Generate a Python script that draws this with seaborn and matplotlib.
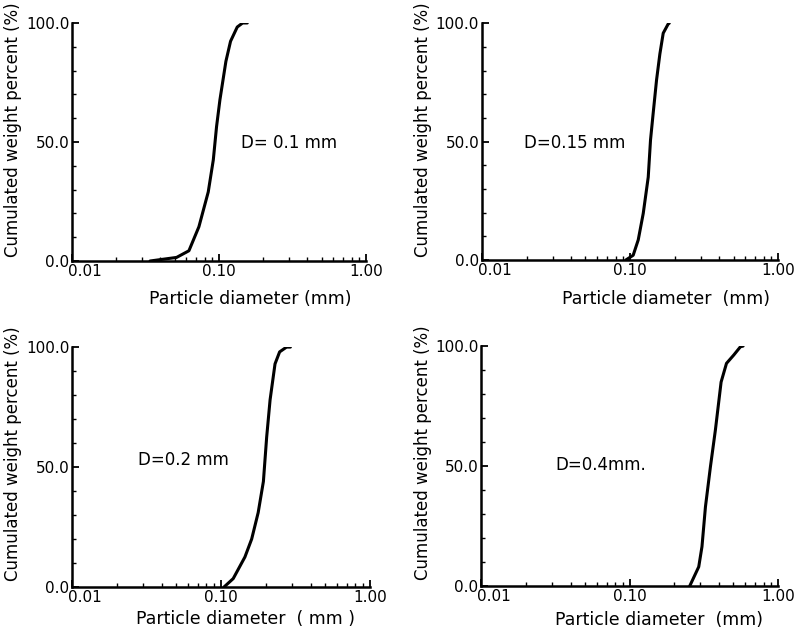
import matplotlib
matplotlib.use("Agg")
import matplotlib.pyplot as plt
import matplotlib.ticker as mticker
import matplotlib.transforms as mtrans
import seaborn as sns

# grain size curves
d01_size = [0.034, 0.0515, 0.0625, 0.0731, 0.0846, 0.0916, 0.0964, 0.1016, 0.1116, 0.120, 0.1333, 0.145, 0.156]
d01_pct = [0, 1.5, 4.3, 14.4, 29, 42.5, 56.5, 67.7, 83.9, 92.3, 98.3, 100, 100]

d015_size = [0.0937, 0.105, 0.1136, 0.1228, 0.1327, 0.1375, 0.1433, 0.151, 0.159, 0.1675, 0.181, 0.184]
d015_pct = [0, 2, 8.5, 19.7, 35, 50.7, 62, 76, 87, 95.8, 99.7, 100]

d02_size = [0.105, 0.121, 0.145, 0.161, 0.178, 0.193, 0.203, 0.214, 0.231, 0.248, 0.276, 0.293]
d02_pct = [0, 3.5, 12.5, 20, 31, 44, 62.5, 78, 93, 98, 100, 100]

d04_size = [0.254, 0.292, 0.307, 0.324, 0.350, 0.378, 0.413, 0.449, 0.503, 0.557, 0.581]
d04_pct = [0, 8, 16.4, 33, 49.7, 65, 85, 92.8, 96.3, 99.7, 100]

labels = ["D= 0.1 mm", "D=0.15 mm", "D=0.2 mm", "D=0.4mm."]
label_pos = [(0.142, 49.5), (0.0192, 49.3), (0.0277, 53), (0.0315, 50.4)]
xlabels = ["Particle diameter (mm)", "Particle diameter  (mm)",
           "Particle diameter  ( mm )", "Particle diameter  (mm)"]
ylabel = "Cumulated weight percent (%)"
xticks = [0.01, 0.1, 1.0]
xticklabels = ["0.01", "0.10", "1.00"]
yticks = [0, 50, 100]
yticklabels = ["0.0", "50.0", "100.0"]

sns.set_style("ticks")
plt.rcParams['font.family'] = ['DejaVu Sans']
for k in ["text.color", "axes.labelcolor", "xtick.color", "ytick.color", "axes.edgecolor"]:
    plt.rcParams[k] = "black"

fig = plt.figure(figsize=(7.94, 6.28), dpi=100)

boxes = [
    [0.0907, 0.5844, 0.370, 0.379],
    [0.607, 0.586, 0.373, 0.377],
    [0.0907, 0.0653, 0.375, 0.382],
    [0.606, 0.0669, 0.374, 0.382],
]
xlab_coords = [(0.605, -0.12), (0.62, -0.127), (0.584, -0.095), (0.6, -0.104)]
ylab_coords = [(-0.17, 0.55), (-0.169, 0.55), (-0.168, 0.554), (-0.165, 0.554)]

curves = [(d01_size, d01_pct), (d015_size, d015_pct), (d02_size, d02_pct), (d04_size, d04_pct)]

for i, (xs, ys) in enumerate(curves):
    ax = fig.add_axes(boxes[i])
    sns.lineplot(x=xs, y=ys, ax=ax, color="black", linewidth=2.2, sort=False)
    ax.set_xscale("log")
    ax.set_xlim(0.01, 1.0)
    ax.set_ylim(0, 100)
    sns.despine(ax=ax)
    for s in ["left", "bottom"]:
        ax.spines[s].set_linewidth(1.8)

    ax.set_xticks(xticks)
    ax.set_xticklabels(xticklabels)
    ax.xaxis.set_minor_locator(mticker.LogLocator(base=10, subs=range(2, 10)))
    ax.xaxis.set_minor_formatter(mticker.NullFormatter())
    ax.set_yticks(yticks)
    ax.set_yticklabels(yticklabels)
    ax.yaxis.set_minor_locator(mticker.MultipleLocator(10))

    ax.tick_params(axis="both", which="major", direction="in", length=5, width=1.3,
                   labelsize=11, pad=2)
    ax.tick_params(axis="both", which="minor", direction="in", length=3, width=1)

    # first x label sits just right of the axis corner, as in the original
    first = ax.get_xticklabels()[0]
    first.set_horizontalalignment("left")
    first.set_transform(first.get_transform() +
                        mtrans.ScaledTranslation(-3 / 72, 0, fig.dpi_scale_trans))

    ax.set_xlabel(xlabels[i], fontsize=12.5)
    ax.set_ylabel(ylabel, fontsize=12)
    ax.xaxis.set_label_coords(*xlab_coords[i])
    ax.yaxis.set_label_coords(*ylab_coords[i])

    tx, ty = label_pos[i]
    ax.text(tx, ty, labels[i], fontsize=12, ha="left", va="center")

fig.savefig("out.png", dpi=100)
